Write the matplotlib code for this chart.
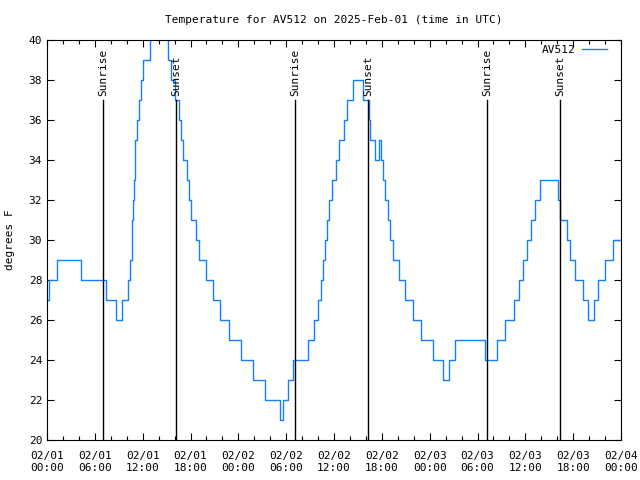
import datetime as dt
import matplotlib
matplotlib.use("Agg")
import matplotlib.pyplot as plt
import matplotlib.dates as mdates


#Readings, hours after 2025-02-01 00:00 UTC, and temperature (F) held until next reading.
Hours = [0.0, 0.2, 1.3, 4.3, 7.4, 8.7, 9.45, 10.15, 10.45, 10.6, 10.7, 10.8,
         10.9, 11.0, 11.1, 11.3, 11.5, 11.75, 12.1, 12.9, 13.1, 13.6, 14.4,
         14.9, 15.2, 15.5, 16.0, 16.5, 16.75, 17.1, 17.5, 17.75, 18.1, 18.7,
         19.1, 20.0, 20.8, 21.7, 22.8, 24.3, 25.8, 27.3, 29.2, 29.55, 30.2,
         30.85, 32.7, 33.5, 34.0, 34.4, 34.6, 34.85, 35.1, 35.4, 35.75, 36.25,
         36.65, 37.2, 37.65, 38.35, 39.7, 40.35, 40.55, 41.1, 41.6, 41.85,
         42.1, 42.4, 42.75, 43.0, 43.4, 44.2, 44.95, 45.9, 46.95, 48.4, 49.65,
         50.45, 51.2, 54.95, 56.45, 57.5, 58.6, 59.2, 59.7, 60.2, 60.65, 61.15,
         61.9, 64.1, 64.35, 65.2, 65.65, 66.2, 67.2, 67.9, 68.65, 69.15, 69.95,
         70.95, 72.0]
Temps = [27, 28, 29, 28, 27, 26, 27, 28, 29, 30, 31, 32,
         33, 34, 35, 36, 37, 38, 39, 40, 41, 42, 41,
         40, 39, 38, 37, 36, 35, 34, 33, 32, 31, 30,
         29, 28, 27, 26, 25, 24, 23, 22, 21, 22, 23,
         24, 25, 26, 27, 28, 29, 30, 31, 32, 33, 34,
         35, 36, 37, 38, 37, 36, 35, 34, 35, 34,
         33, 32, 31, 30, 29, 28, 27, 26, 25, 24, 23,
         24, 25, 24, 25, 26, 27, 28, 29, 30, 31, 32,
         33, 32, 31, 30, 29, 28, 27, 26, 27, 28, 29,
         30, 30]

SunriseHours = [7.02, 31.11, 55.19]
SunsetHours = [16.18, 40.27, 64.35]

Start = dt.datetime(2025, 2, 1)
Mono = "DejaVu Sans Mono"


def ToTime(H):
    return([Start + dt.timedelta(hours=h) for h in H])


def main():
    fig = plt.figure(figsize=(6.4, 4.8), dpi=100)
    ax = fig.add_axes([47/640, 40/480, 574/640, 400/480])

    ax.step(ToTime(Hours), Temps, where='post', color='#1080ff', lw=1.0,
            label='AV512')

    #Sunrise / sunset markers.
    for h, name in [(x, 'Sunrise') for x in SunriseHours] + [(x, 'Sunset') for x in SunsetHours]:
        t = Start + dt.timedelta(hours=h)
        ax.plot([t, t], [20, 37], color='k', lw=1.0)
        ax.text(t, 37.2, name, rotation=90, ha='center', va='bottom',
                family=Mono, fontsize=8)

    ax.set_xlim(Start, Start + dt.timedelta(hours=72))
    ax.set_ylim(20, 40)
    ax.set_yticks(range(20, 41, 2))

    ax.xaxis.set_major_locator(mdates.HourLocator(byhour=[0, 6, 12, 18]))
    ax.xaxis.set_minor_locator(mdates.HourLocator(interval=2))
    ax.xaxis.set_major_formatter(mdates.DateFormatter('%m/%d\n%H:%M'))

    ax.tick_params(which='both', direction='in', top=True, right=True,
                   labelsize=8, width=0.8)
    ax.tick_params(which='major', length=5)
    ax.tick_params(which='minor', length=3)
    ax.tick_params(axis='x', pad=8)
    for lab in ax.get_xticklabels() + ax.get_yticklabels():
        lab.set_family(Mono)

    ax.set_ylabel('degrees F', family=Mono, fontsize=8, labelpad=10)
    ax.set_title('Temperature for AV512 on 2025-Feb-01 (time in UTC)',
                 family=Mono, fontsize=8, pad=12)

    ax.legend(loc='upper right', bbox_to_anchor=(0.982, 0.995), frameon=False,
              markerfirst=False, prop={'family': Mono, 'size': 8},
              handlelength=2.3, handletextpad=0.6, borderaxespad=0.0,
              borderpad=0.3)

    fig.savefig('out.png', dpi=100)


if(__name__ == "__main__"):
    main()
